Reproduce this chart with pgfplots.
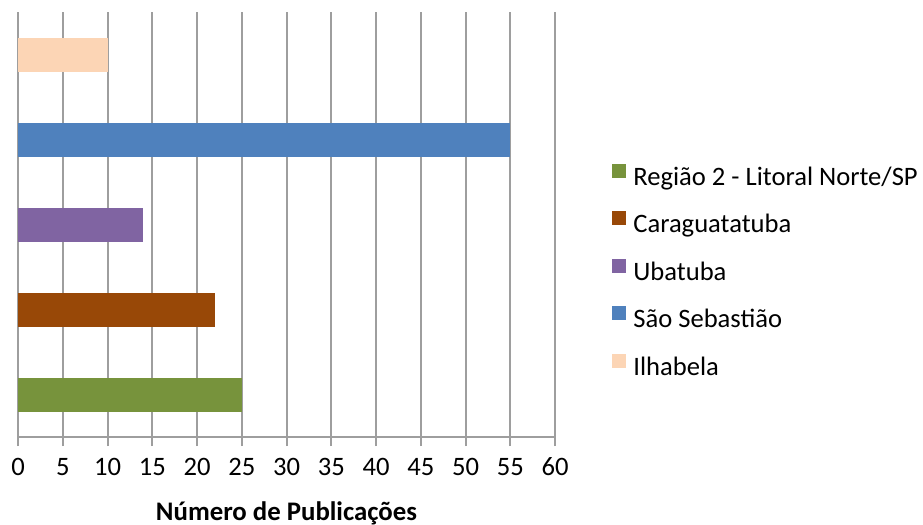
\documentclass[border=0pt]{standalone}
\usepackage{fontspec}
\setmainfont{Carlito}
\usepackage{pgfplots}
\pgfplotsset{compat=1.18}

\definecolor{gridgray}{RGB}{158,158,158}
\definecolor{regiao}{RGB}{119,147,60}
\definecolor{caragua}{RGB}{152,72,7}
\definecolor{ubatuba}{RGB}{128,100,162}
\definecolor{saosebastiao}{RGB}{79,129,189}
\definecolor{ilhabela}{RGB}{252,213,181}

\pgfplotsset{
  catbar/.style={xbar, bar width=17pt, bar shift=0pt, fill=#1, draw=none,
    legend image code/.code={\fill[#1] (0pt,0.7pt) rectangle (7pt,7.7pt);}},
}

\begin{document}
\begin{tikzpicture}
\begin{axis}[
    name=ax,
    scale only axis,
    width=268.5pt, height=212.5pt,
    xmin=0, xmax=60,
    ymin=-0.5, ymax=4.5,
    xtick={0,5,...,60},
    ytick=\empty,
    axis x line*=bottom,
    axis y line*=left,
    axis line style={-, draw=gridgray, line width=1pt},
    xmajorgrids,
    major grid style={draw=gridgray, line width=1pt},
    tick align=outside,
    major tick length=4.5pt,
    tick style={draw=gridgray, line width=1pt},
    /pgf/number format/assume math mode=true,
    xticklabel style={font=\fontsize{13.3}{16}\selectfont, anchor=base, yshift=-14.5pt},
    xlabel={Número de Publicações},
    x label style={font=\fontsize{13.4}{16}\selectfont\bfseries,
      at={(axis description cs:0.5,0)}, anchor=center, yshift=-38pt},
    legend cell align=left,
    legend style={at={(1.106,0.387)}, anchor=west, draw=none, fill=none,
      inner sep=0pt, row sep=10pt,
      font=\fontsize{13.3}{16}\selectfont,
      nodes={inner sep=0pt, text height=9pt, text depth=3pt},
      /tikz/every odd column/.append style={column sep=3.5pt}},
]
\addplot[catbar=regiao] coordinates {(25,0)};
\addlegendentry{Região 2 - Litoral Norte/SP}
\addplot[catbar=caragua] coordinates {(22,1)};
\addlegendentry{Caraguatatuba}
\addplot[catbar=ubatuba] coordinates {(14,2)};
\addlegendentry{Ubatuba}
\addplot[catbar=saosebastiao] coordinates {(55,3)};
\addlegendentry{São Sebastião}
\addplot[catbar=ilhabela] coordinates {(10,4)};
\addlegendentry{Ilhabela}
\end{axis}
\pgfresetboundingbox
\path[use as bounding box] ([xshift=-9pt,yshift=-43.5pt]ax.south west)
  rectangle ([xshift=184pt,yshift=6pt]ax.north east);
\end{tikzpicture}
\end{document}
